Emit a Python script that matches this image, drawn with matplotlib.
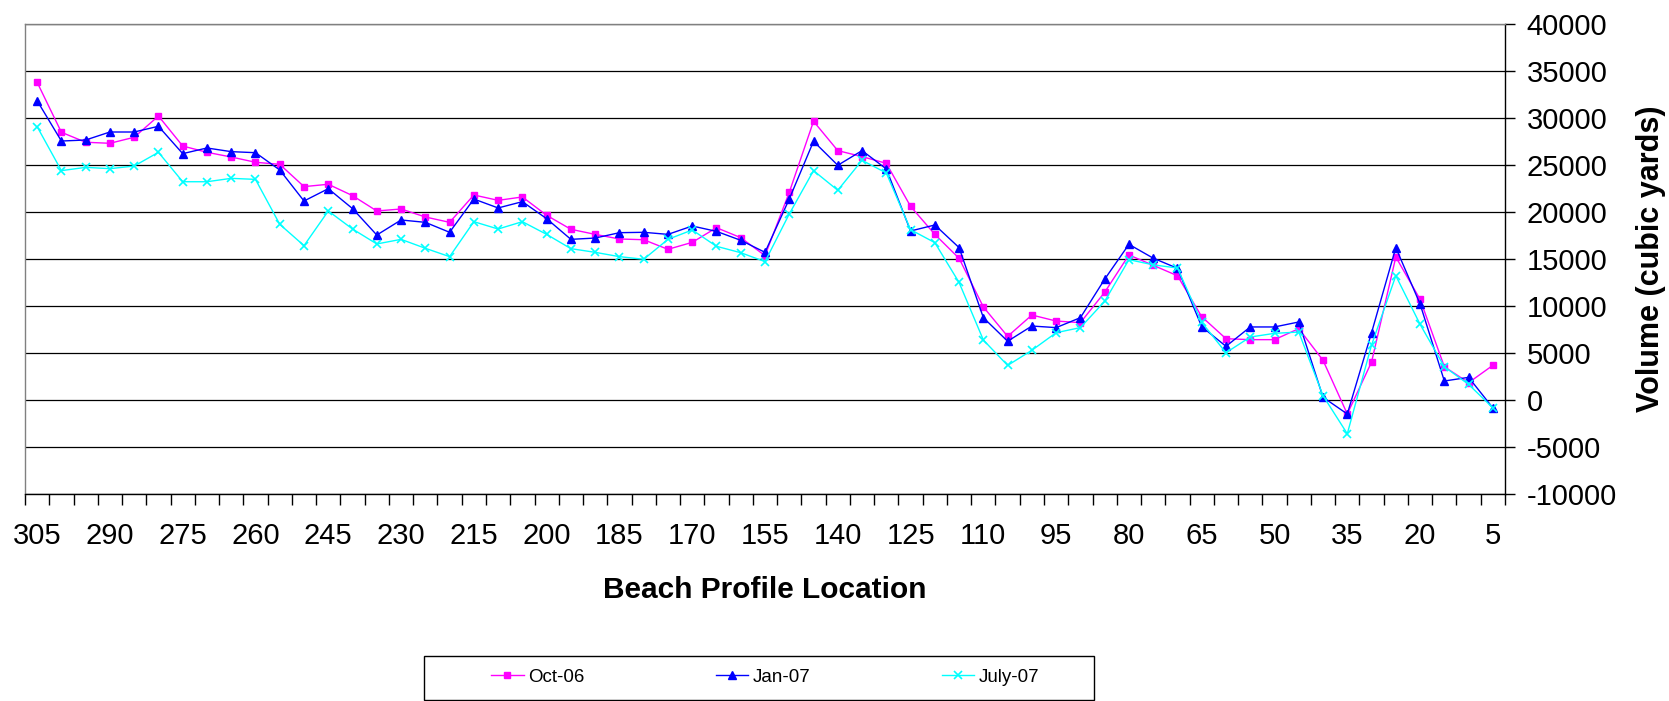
import matplotlib
matplotlib.use("Agg")
import matplotlib.pyplot as plt
from matplotlib.patches import Rectangle
from matplotlib.ticker import FuncFormatter
import numpy as np

# Beach profile stations, surveyed from north (305) to south (5)
locations = list(range(305, 0, -5))

# Sand volume above datum at each profile (cubic yards)
oct_06 = [33800, 28480, 27420, 27310, 27950, 30210, 27020, 26350, 25850, 25290,
          25070, 22700, 22950, 21740, 20110, 20320, 19470, 18900, 21810, 21240,
          21600, 19650, 18160, 17620, 17130, 17050, 16030, 16770, 18330, 17270,
          15360, 22090, 29650, 26530, 25890, 25180, 20600, 17620, 15070, 9900,
          6770, 9040, 8400, 8230, 11460, 15430, 14330, 13220, 8860, 6520,
          6420, 6420, 7590, 4220, -1490, 4040, 15210, 10710, 3540, 1840,
          3690]
jan_07 = [31840, 27550, 27660, 28510, 28510, 29120, 26210, 26810, 26420, 26310,
          24470, 21170, 22480, 20360, 17550, 19150, 18900, 17840, 21380, 20430,
          21100, 19290, 17090, 17230, 17800, 17840, 17620, 18510, 17940, 16990,
          15710, 21380, 27520, 24970, 26530, 24580, 17980, 18620, 16210, 8760,
          6250, 7870, 7700, 8760, 12850, 16560, 15090, 14010, 7800, 5710,
          7770, 7770, 8300, 290, -1490, 7160, 16210, 10210, 2020, 2410,
          -840]
july_07 = [29080, 24400, 24750, 24610, 24890, 26350, 23220, 23220, 23580, 23470,
           18690, 16420, 20110, 18190, 16600, 17090, 16140, 15250, 18970, 18190,
           18970, 17620, 16100, 15710, 15250, 14970, 17090, 18090, 16350, 15670,
           14720, 19790, 24400, 22310, 25500, 24150, 18120, 16740, 12500, 6380,
           3680, 5290, 7160, 7700, 10500, 14930, 14380, 14040, 8260, 5030,
           6700, 7090, 7230, 460, -3590, 5850, 13220, 8050, 3540, 1660,
           -840]
series_names = ["Oct-06", "Jan-07", "July-07"]
y_ticks = list(range(-10000, 40001, 5000))

plt.rcParams["font.family"] = ["Liberation Sans", "DejaVu Sans"]
plt.rcParams["axes.unicode_minus"] = False

W, H = 1669, 701
fig = plt.figure(figsize=(W / 100, H / 100), dpi=100)
fig.patch.set_facecolor("white")
ax = fig.add_axes([25 / W, 1 - 494 / H, 1480 / W, 470 / H])

x = np.arange(len(locations))
ax.plot(x, oct_06, color="#FF00FF", lw=1.0, marker="s", ms=5,
        mfc="#FF00FF", mec="#FF00FF", zorder=3)
ax.plot(x, jan_07, color="#0000FF", lw=1.0, marker="^", ms=5.5,
        mfc="#0000FF", mec="#0000FF", zorder=4)
ax.plot(x, july_07, color="#00FFFF", lw=1.0, marker="x", ms=6, mew=1.2,
        zorder=5)

ax.set_xlim(-0.5, len(x) - 0.5)
ax.set_ylim(y_ticks[0], y_ticks[-1])

# value axis on the right
ax.yaxis.tick_right()
ax.set_yticks(y_ticks)
ax.yaxis.set_major_formatter(FuncFormatter(lambda v, p: f"{int(v)}"))
ax.tick_params(axis="y", which="major", length=7, width=1, direction="out",
               pad=8.5, labelsize=21, right=True, left=False, colors="black")
ax.grid(axis="y", color="black", lw=0.9)
ax.set_axisbelow(True)

# category axis: labels every third station, ticks between categories
ax.set_xticks(x[::3])
ax.set_xticklabels([str(v) for v in locations[::3]])
ax.set_xticks(np.arange(-0.5, len(x)), minor=True)
ax.tick_params(axis="x", which="major", length=0, pad=20, labelsize=21)
ax.tick_params(axis="x", which="minor", length=8, width=1, direction="out",
               color="black")

for side, col in (("left", "#808080"), ("top", "#808080"),
                  ("right", "black"), ("bottom", "black")):
    ax.spines[side].set_color(col)
    ax.spines[side].set_linewidth(1.0)

ax.set_xlabel("Beach Profile Location", fontsize=21.5, fontweight="bold",
              labelpad=19)
ax.yaxis.set_label_position("right")
ax.set_ylabel("Volume (cubic yards)", fontsize=22, fontweight="bold",
              labelpad=14)

leg = fig.legend(ax.get_lines(), series_names, loc="center left",
                 bbox_to_anchor=(491 / W, 1 - 677 / H), ncol=3, frameon=False,
                 fontsize=13.5, handlelength=1.75, handletextpad=0.22,
                 columnspacing=7.0, borderpad=0, borderaxespad=0)
fig.patches.append(Rectangle((424 / W, 1 - 700 / H), 670 / W, 44 / H,
                             transform=fig.transFigure, fill=False,
                             ec="black", lw=1.0))

fig.savefig("out.png", dpi=100)
